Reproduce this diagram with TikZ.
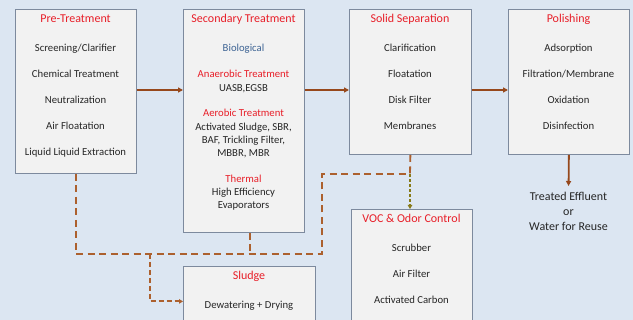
\documentclass[tikz,border=0pt]{standalone}
\usepackage{fontspec}
\setmainfont{Carlito}
\usepackage{xcolor}
\usetikzlibrary{arrows.meta,positioning,calc}
\definecolor{bgblue}{RGB}{220,230,242}
\definecolor{boxgrey}{RGB}{242,242,242}
\definecolor{boxline}{RGB}{125,138,158}
\definecolor{flowbrown}{RGB}{150,72,28}
\definecolor{dashbrown}{RGB}{172,96,46}
\definecolor{ventolive}{RGB}{135,122,25}
\definecolor{headred}{RGB}{232,30,40}
\definecolor{bioblue}{RGB}{62,100,148}
\definecolor{textdark}{RGB}{38,38,38}

\begin{document}
\begin{tikzpicture}[x=1pt, y=-1pt,
    box/.style={draw=boxline, fill=boxgrey, line width=0.8pt, anchor=north west, inner sep=0pt},
    ttl/.style={text=headred, font=\fontsize{12}{14}\selectfont, text height=7.7pt, text depth=0pt, inner sep=0pt},
    item/.style={text=textdark, font=\fontsize{10.7}{13}\selectfont, text height=7pt, text depth=0pt, inner sep=0pt},
    sub/.style={item, text=headred},
    arr/.style={-{Triangle[length=5pt,width=5pt]}, line width=1.8pt, flowbrown},
    dsh/.style={line width=1.8pt, dashbrown, dash pattern=on 7pt off 4.5pt},
]
    \useasboundingbox (0,0) rectangle (633,320);
    \clip (0,0) rectangle (633,320);
    \fill[bgblue] (0,0) rectangle (633,320);

    % boxes
    \node[box, minimum width=121pt, minimum height=164pt] (pre) at (15,9) {};
    \node[box, minimum width=121pt, minimum height=223pt] (sec) at (183,9) {};
    \node[box, minimum width=122pt, minimum height=145pt] (solid) at (349,9) {};
    \node[box, minimum width=121pt, minimum height=145pt] (pol) at (508,9) {};
    \node[box, minimum width=132pt, minimum height=70pt] (sludge) at (183,266) {};
    \node[box, minimum width=121pt, minimum height=130pt] (voc) at (351,209) {};

    % pre-treatment
    \node[ttl] (pretitle) at (75.5,19) {Pre-Treatment};
    \foreach \t [count=\i] in {Screening/Clarifier, Chemical Treatment, Neutralization,
        Air Floatation, Liquid Liquid Extraction}
        \node[item] (pre\i) at (75.5,22+26*\i) {\t};

    % secondary treatment
    \node[ttl] (sectitle) at (243.5,19) {Secondary Treatment};
    \node[item, text=bioblue] (bio) at (243.5,48) {Biological};
    \node[sub] (anaer) at (243.5,74) {Anaerobic Treatment};
    \node[item] (anaer1) at (243.5,88) {UASB,EGSB};
    \node[sub] (aer) at (243.5,113) {Aerobic Treatment};
    \node[item] (aer1) at (243.5,127) {Activated Sludge, SBR,};
    \node[item] (aer2) at (243.5,140) {BAF, Trickling Filter,};
    \node[item] (aer3) at (243.5,153) {MBBR, MBR};
    \node[sub] (therm) at (243.5,179) {Thermal};
    \node[item] (therm1) at (243.5,192) {High Efficiency};
    \node[item] (therm2) at (243.5,205) {Evaporators};

    % solid separation
    \node[ttl] (soltitle) at (410,19) {Solid Separation};
    \foreach \t [count=\i] in {Clarification, Floatation, Disk Filter, Membranes}
        \node[item] (sol\i) at (410,22+26*\i) {\t};

    % polishing
    \node[ttl] (poltitle) at (568.5,19) {Polishing};
    \foreach \t [count=\i] in {Adsorption, Filtration/Membrane, Oxidation, Disinfection}
        \node[item] (pol\i) at (568.5,22+26*\i) {\t};

    % sludge
    \node[ttl] (sludgetitle) at (249,276) {Sludge};
    \node[item] (dry) at (249,305) {Dewatering + Drying};

    % voc & odor
    \node[ttl] (voctitle) at (411.5,219) {VOC \& Odor Control};
    \foreach \t [count=\i] in {Scrubber, Air Filter, Activated Carbon}
        \node[item] (voc\i) at (411.5,222+26*\i) {\t};

    % effluent
    \node[align=center, text=textdark, font=\fontsize{12}{15}\selectfont, inner sep=0pt, anchor=north]
        (effluent) at (568.5,192) {Treated Effluent\\or\\Water for Reuse};

    % main flow
    \coordinate (flow) at (0,90);
    \draw[arr] (pre.east |- flow) -- (sec.west |- flow);
    \draw[arr] (sec.east |- flow) -- (solid.west |- flow);
    \draw[arr] (solid.east |- flow) -- (pol.west |- flow);
    \draw[arr, shorten >=6pt] (pol.south) -- (effluent.north);

    % sludge and vent lines
    \coordinate (rise) at (322,254);
    \coordinate (vent) at (410,174);
    \coordinate (split) at (150,254);
    \draw[dsh] (pre.south) |- (rise) |- (vent);
    \draw[dsh] ([xshift=6pt]sec.south) -- ([xshift=6pt]sec.south |- rise);
    \draw[dsh] (solid.south) -- (vent);
    \draw[dsh, ventolive, dash pattern=on 3pt off 2pt, -{Triangle[length=4pt,width=4.5pt]}] (vent) -- (vent |- voc.north);
    \draw[dsh, dash pattern=on 5pt off 3pt, -{Triangle[length=4pt,width=4.5pt]}] (split) |- (sludge.west);
\end{tikzpicture}
\end{document}
